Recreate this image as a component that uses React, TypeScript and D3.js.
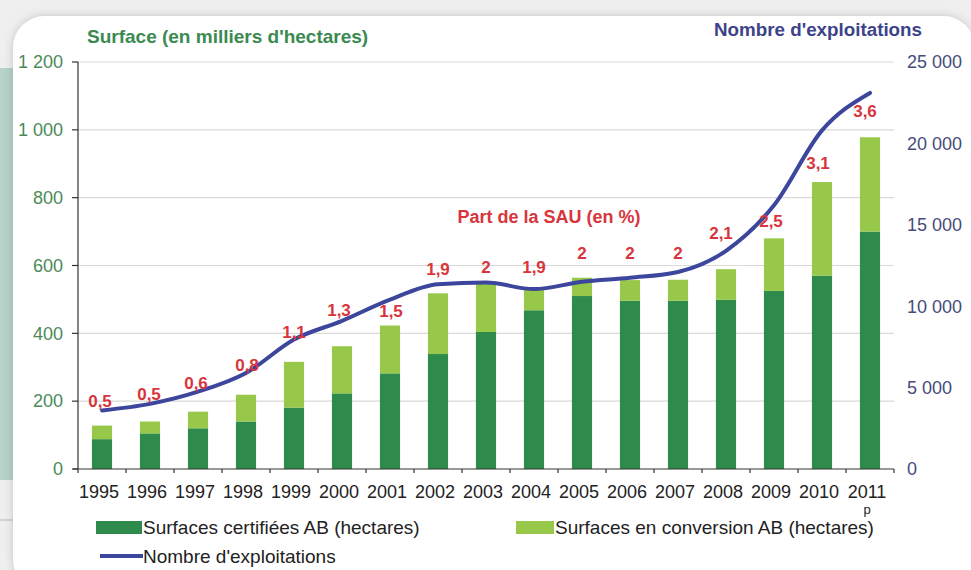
import React from "react";
import { scaleBand, scaleLinear, line, curveMonotoneX } from "d3";

const years = ["1995", "1996", "1997", "1998", "1999", "2000", "2001", "2002", "2003", "2004", "2005", "2006", "2007", "2008", "2009", "2010", "2011"];
// milliers d'hectares
const certified = [88, 105, 120, 140, 181, 223, 282, 339, 404, 468, 510, 496, 496, 499, 525, 570, 700];
const conversion = [40, 35, 49, 79, 135, 139, 141, 179, 146, 65, 54, 61, 62, 90, 155, 276, 278];
const farms = [3600, 4000, 4750, 5900, 7950, 9100, 10400, 11350, 11450, 11050, 11500, 11750, 12100, 13400, 16200, 20800, 23100];
const sauShare = ["0,5", "0,5", "0,6", "0,8", "1,1", "1,3", "1,5", "1,9", "2", "1,9", "2", "2", "2", "2,1", "2,5", "3,1", "3,6"];
const leftTicks = [0, 200, 400, 600, 800, 1000, 1200];
const rightTicks = [0, 5000, 10000, 15000, 20000, 25000];

// label nudges relative to the line point (layout only)
const labelNudge = [[-2, -9], [-1, -10], [-2, -9], [1, -8], [0, -8], [-3, -11], [1, 11], [0, -15], [0, -16], [0, -22], [0, -29], [0, -25], [0, -19], [-5, -18], [-3, 16], [-4, 33], [-5, 18]];

const W = 971;
const H = 570;
const left = 78;
const right = 894;
const top = 62;
const bottom = 469;

const DARK = "#2f8b4c";
const LIGHT = "#97c849";
const BLUE = "#3c469c";
const RED = "#d8353c";
const FONT = "'Liberation Sans', Arial, sans-serif";

const fmt = (n: number) => n.toLocaleString("fr-FR").replace(/\u202f|\u00a0/g, " ");

export default function App() {
  const x = scaleBand().domain(years).range([left, right]).paddingInner(0.58).paddingOuter(0.29);
  const yL = scaleLinear().domain([0, 1200]).range([bottom, top]);
  const yR = scaleLinear().domain([0, 25000]).range([bottom, top]);
  const cx = (y: string) => (x(y) ?? 0) + x.bandwidth() / 2;
  const step = x.step();

  const farmLine = line<number>()
    .x((_, i) => cx(years[i]))
    .y((d) => yR(d))
    .curve(curveMonotoneX);

  return (
    <svg width={W} height={H} style={{ display: "block", fontFamily: FONT }}>
      <style>{`body{margin:0}`}</style>
      <defs>
        <filter id="shadow" x="-10%" y="-10%" width="120%" height="120%">
          <feDropShadow dx="0" dy="0" stdDeviation="5" floodColor="#000" floodOpacity="0.18" />
        </filter>
      </defs>
      <rect x={0} y={0} width={W} height={H} fill="#efefef" />
      <rect x={0} y={68} width={16} height={412} fill="#b6d3c9" />
      <line x1={0} x2={16} y1={520} y2={520} stroke="#b9b9b9" />
      <rect x={13} y={16} width={962} height={575} rx={32} fill="#fff" filter="url(#shadow)" />

      {/* grid */}
      {leftTicks.slice(1).map((t) => (
        <line key={t} x1={left} x2={right} y1={yL(t)} y2={yL(t)} stroke="#d9d9d9" strokeWidth={1.2} />
      ))}

      {/* bars */}
      {years.map((y, i) => (
        <g key={y}>
          <rect x={x(y)} y={yL(certified[i])} width={x.bandwidth()} height={bottom - yL(certified[i])} fill={DARK} />
          <rect
            x={x(y)}
            y={yL(certified[i] + conversion[i])}
            width={x.bandwidth()}
            height={yL(certified[i]) - yL(certified[i] + conversion[i])}
            fill={LIGHT}
          />
        </g>
      ))}

      {/* axes */}
      <line x1={left} x2={left} y1={top} y2={bottom + 4} stroke="#333" strokeWidth={1.2} />
      <line x1={left - 5} x2={right} y1={bottom} y2={bottom} stroke="#333" strokeWidth={1.2} />
      {leftTicks.map((t) => (
        <g key={t}>
          <line x1={left - 6} x2={left} y1={yL(t)} y2={yL(t)} stroke="#333" strokeWidth={1.2} />
          <text x={63} y={yL(t)} dy="0.35em" textAnchor="end" fontSize={18} fill="#4b8a58">
            {fmt(t)}
          </text>
        </g>
      ))}
      {years.map((y, i) => (
        <line key={y} x1={left + step * (i + 1)} x2={left + step * (i + 1)} y1={bottom} y2={bottom + 4} stroke="#333" strokeWidth={1.2} />
      ))}
      {rightTicks.map((t) => (
        <text key={t} x={907} y={yR(t)} dy="0.35em" fontSize={18} fill="#464b7c">
          {fmt(t)}
        </text>
      ))}
      {years.map((y) => (
        <text key={y} x={cx(y) - 3} y={498} textAnchor="middle" fontSize={18} fill="#222">
          {y}
        </text>
      ))}
      <text x={cx("2011") - 3} y={514} textAnchor="middle" fontSize={13} fill="#222">
        p
      </text>

      {/* line */}
      <path d={farmLine(farms) ?? ""} fill="none" stroke={BLUE} strokeWidth={4} strokeLinejoin="round" strokeLinecap="round" />

      {/* SAU labels */}
      {years.map((y, i) => (
        <text
          key={y}
          x={cx(y) + labelNudge[i][0]}
          y={yR(farms[i]) + labelNudge[i][1]}
          dy="0.35em"
          textAnchor="middle"
          fontSize={17}
          fontWeight="bold"
          fill={RED}
        >
          {sauShare[i]}
        </text>
      ))}
      <text x={549} y={223} textAnchor="middle" fontSize={18} fontWeight="bold" fill={RED}>
        Part de la SAU (en %)
      </text>

      {/* titles */}
      <text x={87} y={43} fontSize={19} fontWeight="bold" fill="#3b8a50">
        Surface (en milliers d'hectares)
      </text>
      <text x={922} y={36} textAnchor="end" fontSize={18.8} fontWeight="bold" fill="#3d4389">
        Nombre d'exploitations
      </text>

      {/* legend */}
      <rect x={96} y={521} width={46} height={13} fill={DARK} />
      <text x={143} y={534} fontSize={19} fill="#222">
        Surfaces certifiées AB (hectares)
      </text>
      <rect x={516} y={521} width={38} height={13} fill={LIGHT} />
      <text x={555} y={534} fontSize={19} fill="#222">
        Surfaces en conversion AB (hectares)
      </text>
      <line x1={100} x2={143} y1={556} y2={556} stroke={BLUE} strokeWidth={4} />
      <text x={143} y={563} fontSize={19} fill="#222">
        Nombre d'exploitations
      </text>
    </svg>
  );
}
